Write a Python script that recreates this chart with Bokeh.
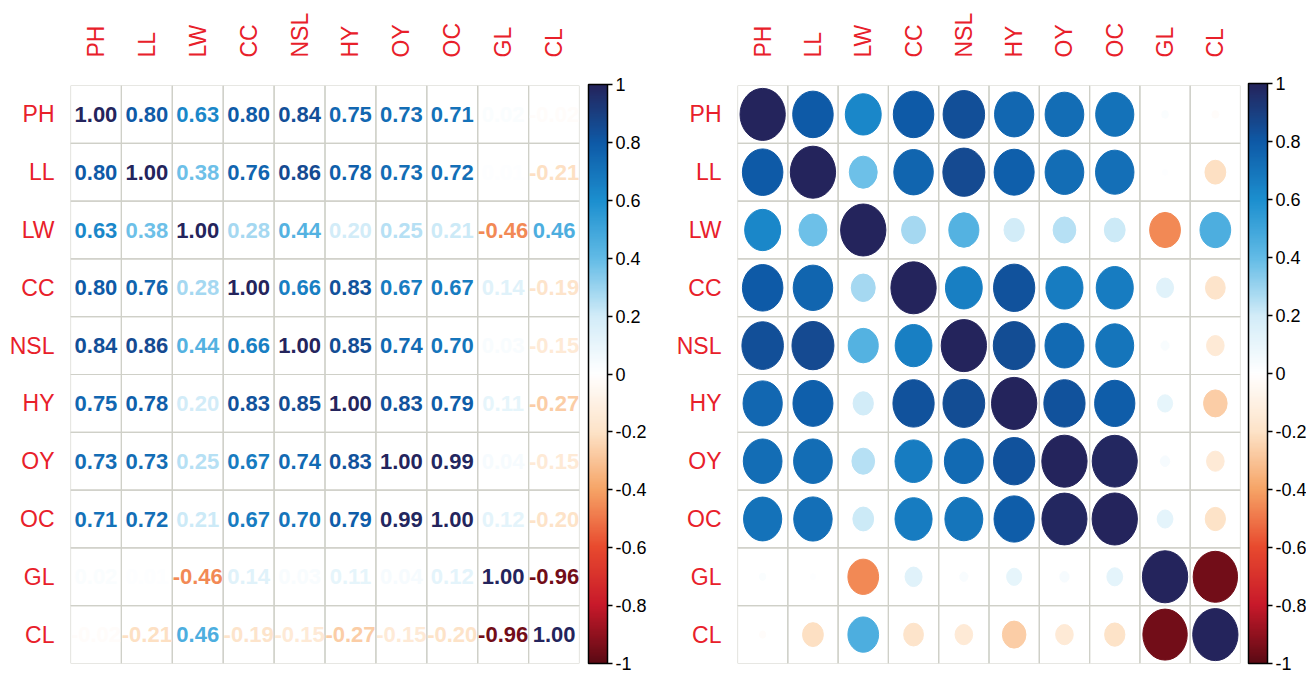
import numpy as np
from bokeh.plotting import figure
from bokeh.layouts import row
from bokeh.models import ColumnDataSource, LinearColorMapper, ColorBar, FixedTicker
from bokeh.core.properties import value
from bokeh.embed import file_html
from bokeh.resources import INLINE

names = ["PH", "LL", "LW", "CC", "NSL", "HY", "OY", "OC", "GL", "CL"]

r_PH  = [1.00, 0.80, 0.63, 0.80, 0.84, 0.75, 0.73, 0.71, 0.02, -0.02]
r_LL  = [0.80, 1.00, 0.38, 0.76, 0.86, 0.78, 0.73, 0.72, 0.01, -0.21]
r_LW  = [0.63, 0.38, 1.00, 0.28, 0.44, 0.20, 0.25, 0.21, -0.46, 0.46]
r_CC  = [0.80, 0.76, 0.28, 1.00, 0.66, 0.83, 0.67, 0.67, 0.14, -0.19]
r_NSL = [0.84, 0.86, 0.44, 0.66, 1.00, 0.85, 0.74, 0.70, 0.03, -0.15]
r_HY  = [0.75, 0.78, 0.20, 0.83, 0.85, 1.00, 0.83, 0.79, 0.11, -0.27]
r_OY  = [0.73, 0.73, 0.25, 0.67, 0.74, 0.83, 1.00, 0.99, 0.04, -0.15]
r_OC  = [0.71, 0.72, 0.21, 0.67, 0.70, 0.79, 0.99, 1.00, 0.12, -0.20]
r_GL  = [0.02, 0.01, -0.46, 0.14, 0.03, 0.11, 0.04, 0.12, 1.00, -0.96]
r_CL  = [-0.02, -0.21, 0.46, -0.19, -0.15, -0.27, -0.15, -0.20, -0.96, 1.00]
rows = [r_PH, r_LL, r_LW, r_CC, r_NSL, r_HY, r_OY, r_OC, r_GL, r_CL]

cbar_ticks = [-1.0, -0.8, -0.6, -0.4, -0.2, 0.0, 0.2, 0.4, 0.6, 0.8, 1.0]
cbar_labels = ["-1", "-0.8", "-0.6", "-0.4", "-0.2", "0", "0.2", "0.4", "0.6", "0.8", "1"]

# colour scale anchors (at -1, -0.8, ..., 1)
anchors = ["#5c0a14", "#c8192a", "#e84a2e", "#f6a466", "#fde3c8", "#ffffff",
           "#d2ecf8", "#62bbe6", "#1c8fcf", "#0e5aa7", "#24245c"]


def hex2rgb(h):
    return np.array([int(h[i:i + 2], 16) for i in (1, 3, 5)], dtype=float)


A = np.array([hex2rgb(h) for h in anchors])
apos = np.linspace(-1, 1, len(anchors))


def colour(v):
    rgb = [np.interp(v, apos, A[:, k]) for k in range(3)]
    return "#%02x%02x%02x" % tuple(int(round(c)) for c in rgb)


palette = [colour(v) for v in np.linspace(-1, 1, 256)]

xs, ys, vals, cols, labs, sizes = [], [], [], [], [], []
for i, rname in enumerate(names):
    for j, cname in enumerate(names):
        v = rows[i][j]
        xs.append(cname)
        ys.append(rname)
        vals.append(v)
        cols.append(colour(v))
        labs.append("%.2f" % v)
        sizes.append(0.9 * np.sqrt(abs(v)))

src = ColumnDataSource(dict(x=xs, y=ys, v=vals, c=cols, t=labs, s=sizes))

FONT = "Liberation Sans"


def base_fig(width, height, bl, br, bt, bb):
    p = figure(width=width, height=height, x_range=names, y_range=names[::-1],
               x_axis_location="above", output_backend="svg", toolbar_location=None,
               min_border_left=bl, min_border_right=br, min_border_top=bt, min_border_bottom=bb)
    p.outline_line_color = None
    p.grid.visible = False
    for ax in (p.xaxis[0], p.yaxis[0]):
        ax.axis_line_color = None
        ax.major_tick_line_color = None
        ax.minor_tick_line_color = None
        ax.major_label_text_color = "#e8202a"
        ax.major_label_text_font = FONT
        ax.major_label_text_font_size = "23px"
    p.xaxis.major_label_orientation = np.pi / 2
    p.xaxis.major_label_standoff = 22
    p.yaxis.major_label_standoff = 10
    p.rect(x="x", y="y", width=1, height=1, source=src, fill_color=None,
           line_color="#cfd0c8", line_width=1.2)
    return p


def add_cbar(p, h, xoff):
    mapper = LinearColorMapper(palette=palette, low=-1, high=1)
    cb = ColorBar(color_mapper=mapper, ticker=FixedTicker(ticks=cbar_ticks),
                  major_label_overrides={t: l for t, l in zip(cbar_ticks, cbar_labels)},
                  width=19, height=h, padding=0, margin=0,
                  major_tick_in=0, major_tick_out=5, major_tick_line_color="black",
                  major_tick_line_width=1.5,
                  bar_line_color="black", bar_line_width=1.5,
                  label_standoff=3, major_label_text_font=FONT,
                  major_label_text_font_size="18px", major_label_text_color="black",
                  border_line_color=None, background_fill_alpha=0,
                  location=(xoff, 0))
    p.add_layout(cb)


# Left: numbers
p1 = base_fig(670, 676, 70, 91, 85, 12)
p1.text(x="x", y="y", text="t", text_color="c", source=src, text_align="center",
        text_baseline="middle", text_font=value(FONT), text_font_size="22px",
        text_font_style="bold")
add_cbar(p1, 579, 518)

# Right: circles
p2 = base_fig(636, 676, 67, 66, 83, 13)
p2.ellipse(x="x", y="y", width="s", height="s", source=src, fill_color="c",
           line_color="c", line_width=1)
add_cbar(p2, 580, 511)

layout = row(p1, p2)
open("out.html", "w").write(file_html(layout, INLINE))
